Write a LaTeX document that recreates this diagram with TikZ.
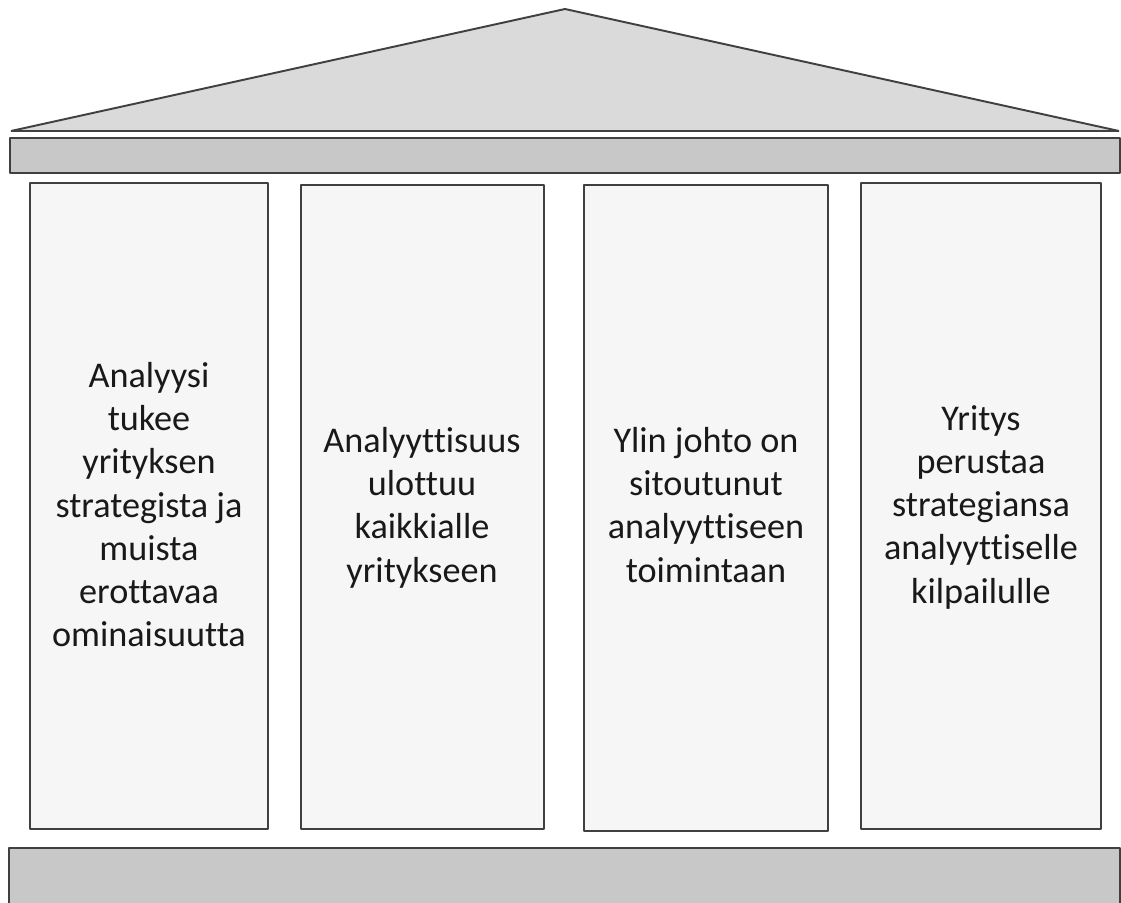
\documentclass[tikz,border=0pt]{standalone}
\usepackage{fontspec}
\setmainfont{Carlito}[Ligatures={NoCommon}]
\definecolor{roofgray}{HTML}{DADADA}
\definecolor{beamgray}{HTML}{C8C8C8}
\definecolor{pillargray}{HTML}{F6F6F6}
\definecolor{edgegray}{HTML}{404040}
\tikzset{
  part/.style={draw=edgegray,line width=1.1pt,line join=bevel},
  pillartext/.style={align=center,anchor=base,font=\fontsize{20.6}{24.55}\selectfont,text=black!90}
}

\begin{document}
\begin{tikzpicture}[x=0.02cm,y=-0.02cm]
\useasboundingbox (0,0) rectangle (1121,902);
% roof, beam and base
\draw[part,fill=roofgray] (11,131) -- (565,9) -- (1119,131) -- cycle;
\draw[part,fill=beamgray] (10,138) rectangle (1120,173);
\draw[part,fill=beamgray] (9,848) rectangle (1120,910);
% pillars
\draw[part,fill=pillargray] (30,183) rectangle (268,829);
\draw[part,fill=pillargray] (301,185) rectangle (544,829);
\draw[part,fill=pillargray] (584,185) rectangle (828,831);
\draw[part,fill=pillargray] (861,183) rectangle (1101,829);
% texts, placed by the baseline of their last line
\node[pillartext] (t1) at (149,646.5) {Analyysi\\tukee\\yrityksen\\strategista ja\\muista\\erottavaa\\ominaisuutta};
\node[pillartext] (t2) at (422,582) {Analyyttisuus\\ulottuu\\kaikkialle\\yritykseen};
\node[pillartext] (t3) at (706,582) {Ylin johto on\\sitoutunut\\analyyttiseen\\toimintaan};
\node[pillartext] (t4) at (981,603) {Yritys\\perustaa\\strategiansa\\analyyttiselle\\kilpailulle};
\end{tikzpicture}
\end{document}
